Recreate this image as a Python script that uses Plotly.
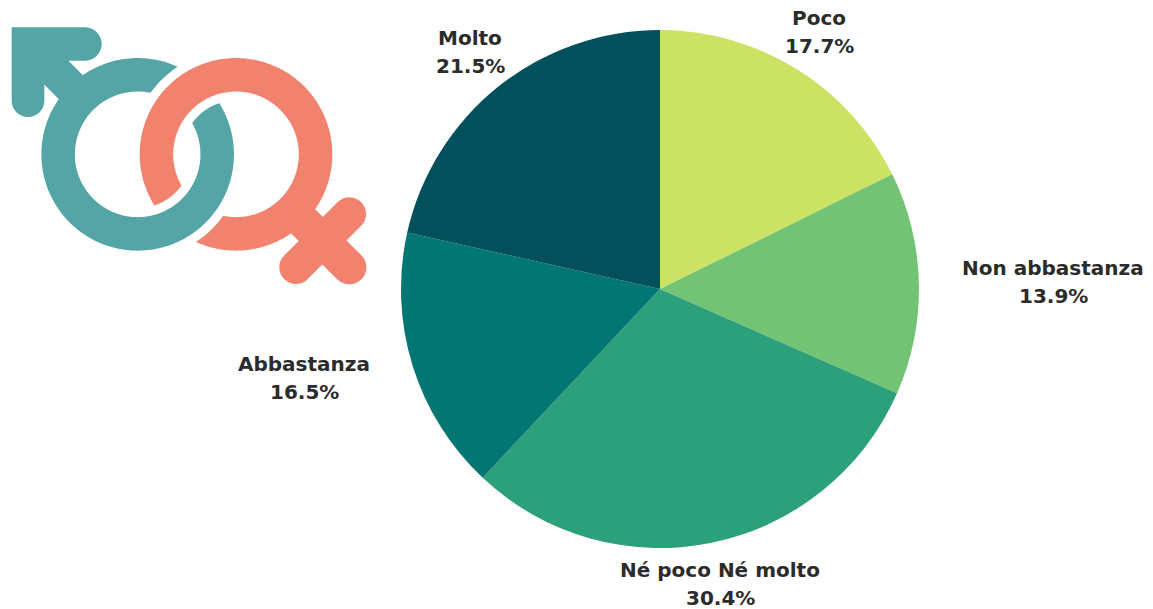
import numpy as np
import plotly.graph_objects as go

W, H = 1153, 609

# Data
categories = ["Poco", "Non abbastanza", "Né poco Né molto", "Abbastanza", "Molto"]
values = [17.7, 13.9, 30.4, 16.5, 21.5]
slice_colors = ["#CBE265", "#73C374", "#2CA07A", "#027672", "#01505C"]

TEAL = "#55A5A6"
SALMON = "#F0826E"
TEXT = "#2B2B2B"


# Page geometry of the pie and its labels
pie_cx, pie_cy, pie_r = 660, 289, 259
label_centres = [(819, 18), (1053, 268), (720, 570), (304, 364), (470, 38)]
line_gap = 28


def P(x, y):
    return f"{x / W:.5f},{1 - y / H:.5f}"


def Z(x, y):
    return x / 3, y / 3 + 10


def arc_pts(cx, cy, r, a0, a1, n=120):
    t = np.radians(np.linspace(a0, a1, n))
    return list(zip(cx + r * np.cos(t), cy + r * np.sin(t)))


def poly(pts):
    return "M" + "L".join(P(x, y) for x, y in pts) + "Z"


def shape(path, color):
    return dict(type="path", xref="paper", yref="paper", path=path,
                fillcolor=color, line=dict(width=0), layer="above")


def ring(cx, cy, r_in, r_out):
    return poly(arc_pts(cx, cy, r_out, 0, 360, 240)) + poly(arc_pts(cx, cy, r_in, 0, 360, 240))


def ring_arc(cx, cy, r_in, r_out, a0, a1):
    return poly(arc_pts(cx, cy, r_out, a0, a1) + arc_pts(cx, cy, r_in, a1, a0))


def capsule(p, q, r):
    ang = np.degrees(np.arctan2(q[1] - p[1], q[0] - p[0]))
    return poly(arc_pts(p[0], p[1], r, ang + 90, ang + 270, 30) +
                arc_pts(q[0], q[1], r, ang - 90, ang + 90, 30))


mx, my = Z(413, 433)
fx, fy = Z(708, 433)
R_IN, R_OUT, GAP = 62.8, 96.3, 9.0

arrow = (
    [Z(35, 52), Z(255, 52)]
    + [Z(255 + 50 * np.cos(a), 102 + 50 * np.sin(a)) for a in np.radians(np.linspace(-90, 90, 30))]
    + [Z(205, 152), Z(133, 225)]
    + [Z(84 + 49 * np.cos(a), 272 + 49 * np.sin(a)) for a in np.radians(np.linspace(0, 180, 30))]
)

shapes = [
    shape(ring(mx, my, R_IN, R_OUT), TEAL),
    shape(poly(arrow), TEAL),
    shape(capsule(Z(120, 139), Z(215, 234), 51 / 3), TEAL),
    # female ring passes over the male ring at the top crossing
    shape(ring(fx, fy, R_IN - GAP, R_OUT + GAP), "#FFFFFF"),
    shape(ring(fx, fy, R_IN, R_OUT), SALMON),
    shape(capsule(Z(895, 620), Z(1048, 772), 51 / 3), SALMON),
    shape(capsule(Z(888, 772), Z(1048, 612), 50 / 3), SALMON),
    # male ring passes over the female ring at the bottom crossing
    shape(ring_arc(mx, my, R_IN - GAP, R_OUT + GAP, 0, 110), "#FFFFFF"),
    shape(ring_arc(mx, my, R_IN, R_OUT, -1, 111), TEAL),
]

annotations = []
for name, val, (cx, cy) in zip(categories, values, label_centres):
    for txt, yy in ((name, cy), (f"{val:.1f}%", cy + line_gap)):
        annotations.append(dict(
            text=txt, xref="paper", yref="paper", x=cx / W, y=1 - yy / H,
            xanchor="center", yanchor="middle", showarrow=False,
            font=dict(family="DejaVu Sans", size=20, color=TEXT, weight="bold"),
        ))

fig = go.Figure(go.Pie(
    labels=categories,
    values=values,
    sort=False,
    direction="clockwise",
    rotation=0,
    textinfo="none",
    hoverinfo="label+percent",
    marker=dict(colors=slice_colors, line=dict(width=0)),
    domain=dict(x=[(pie_cx - pie_r) / W, (pie_cx + pie_r) / W],
                y=[1 - (pie_cy + pie_r) / H, 1 - (pie_cy - pie_r) / H]),
))
fig.update_layout(
    width=W, height=H,
    margin=dict(l=0, r=0, t=0, b=0),
    paper_bgcolor="#FFFFFF",
    showlegend=False,
    shapes=shapes,
    annotations=annotations,
)
fig.write_html("out.html", config=dict(displayModeBar=False),
               post_script="document.body.style.margin='0';document.documentElement.style.overflow='hidden';")
